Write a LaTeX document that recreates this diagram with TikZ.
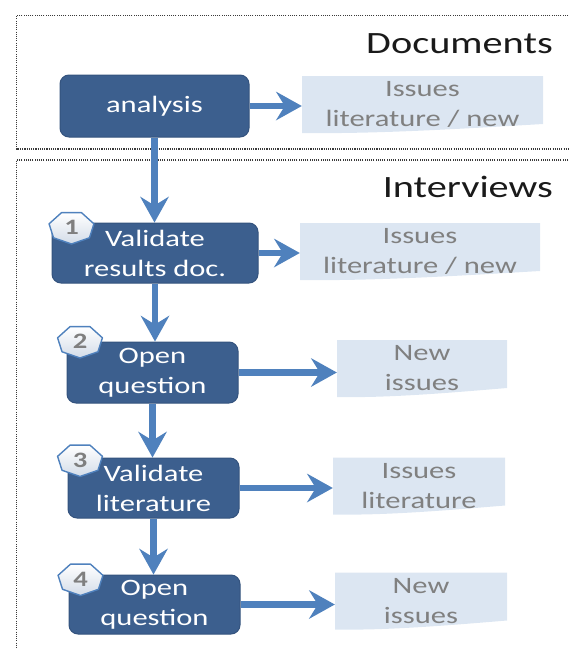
\documentclass[tikz,border=0pt]{standalone}
\usepackage{fontspec}
\setmainfont{Carlito}[FakeStretch=1.3]
\usetikzlibrary{arrows.meta,calc}
\definecolor{boxblue}{HTML}{3C5F8E}
\definecolor{boxedge}{HTML}{34537E}
\definecolor{flowblue}{HTML}{4F81BD}
\definecolor{issuefill}{HTML}{DCE6F2}
\definecolor{issuetext}{HTML}{808080}
\definecolor{framegray}{HTML}{3A3A3A}
\definecolor{badgefill}{HTML}{D3DCE8}
\definecolor{badgetext}{HTML}{7F7F7F}
\definecolor{titletext}{HTML}{1A1A1A}

% numbered heptagon badge: name, centre, number
\newcommand\stepbadge[3]{%
  \coordinate (#1c) at #2;
  \draw[badge] ([shift={(115.71:23pt and 16.5pt)}]#1c)
    \foreach \k in {1,...,6}{ -- ([shift={(115.71+\k*51.43:23pt and 16.5pt)}]#1c)} -- cycle;
  \node[badgenum] (#1) at (#1c) {#3};
}

\begin{document}
\begin{tikzpicture}[x=1pt,y=-1pt,
  frame/.style={draw=framegray, line width=1.1pt, dash pattern=on 1.1pt off 1.1pt},
  title/.style={anchor=base east, font=\fontsize{31}{31}\selectfont, text=titletext, inner sep=0pt},
  stepbox/.style={draw=boxedge, fill=boxblue, line width=1pt, rounded corners=9pt,
    text=white, align=center, font=\fontsize{23.5}{30}\selectfont, inner sep=0pt},
  issue/.style={minimum width=#1, minimum height=57pt, inner sep=0pt, align=center,
    text=issuetext, font=\fontsize{23.5}{30}\selectfont,
    path picture={
      \path (path picture bounding box.south west) coordinate (sw)
            (path picture bounding box.south east) coordinate (se)
            (path picture bounding box.north west) coordinate (nw)
            (path picture bounding box.north east) coordinate (ne);
      \fill[issuefill] (nw) -- (ne) -- ([yshift=9pt]se)
        .. controls ([yshift=4pt]$(sw)!0.65!(se)$) and ([yshift=-1pt]$(sw)!0.3!(se)$) .. (sw) -- cycle;}},
  flow/.style={draw=flowblue, line width=6.5pt,
    -{Stealth[length=26pt,width=29pt,inset=9pt,line width=0pt]}},
  badge/.style={draw=flowblue, line width=1.4pt, top color=white, bottom color=badgefill, line join=round},
  badgenum/.style={text=badgetext, font=\fontsize{22}{22}\selectfont\bfseries, inner sep=0pt},
]
\useasboundingbox (0,0) rectangle (569,648);

% dotted section frames, open to the right
\draw[frame] (590,15.5) -- (16.5,15.5) -- (16.5,149) -- (590,149);
\draw[frame] (590,160) -- (16.5,160) -- (16.5,670);
\node[title] (doc) at (553,53) {Documents};
\node[title] (int) at (553,197) {Interviews};

% resulting issue lists
\node[issue=241pt] (i0) at (422.5,104.5) {Issues\\literature / new};
\node[issue=240pt] (i1) at (420,251.5) {Issues\\literature / new};
\node[issue=170pt] (i2) at (422,368.5) {New\\issues};
\node[issue=172pt] (i3) at (419,486) {Issues\\literature};
\node[issue=172pt] (i4) at (421,601) {New\\issues};

% process steps
\node[stepbox, minimum width=189pt, minimum height=62pt] (an) at (154.5,106) {analysis};
\node[stepbox, minimum width=206pt, minimum height=60pt] (s1) at (155,253) {Validate\\results doc.};
\node[stepbox, minimum width=171pt, minimum height=61pt] (s2) at (152.5,372.5) {Open\\question};
\node[stepbox, minimum width=171pt, minimum height=60pt] (s3) at (153.5,488) {Validate\\literature};
\node[stepbox, minimum width=171pt, minimum height=59pt] (s4) at (154.5,604.5) {Open\\question};

% flow between steps
\draw[flow] (an.south) -- (an.south |- s1.north);
\draw[flow] (s1.south) -- (s1.south |- s2.north);
\draw[flow] (s2.south) -- (s2.south |- s3.north);
\draw[flow] (s3.south) -- (s3.south |- s4.north);

% step outputs
\draw[flow] (an.east) -- (an.east -| i0.west);
\draw[flow] (s1.east) -- (s1.east -| i1.west);
\draw[flow] (s2.east) -- (s2.east -| i2.west);
\draw[flow] (s3.east) -- (s3.east -| i3.west);
\draw[flow] (s4.east) -- (s4.east -| i4.west);

% step numbers
\stepbadge{b1}{(71.5,227.5)}{1}
\stepbadge{b2}{(80,341.5)}{2}
\stepbadge{b3}{(80,460)}{3}
\stepbadge{b4}{(80.5,579)}{4}
\end{tikzpicture}
\end{document}
